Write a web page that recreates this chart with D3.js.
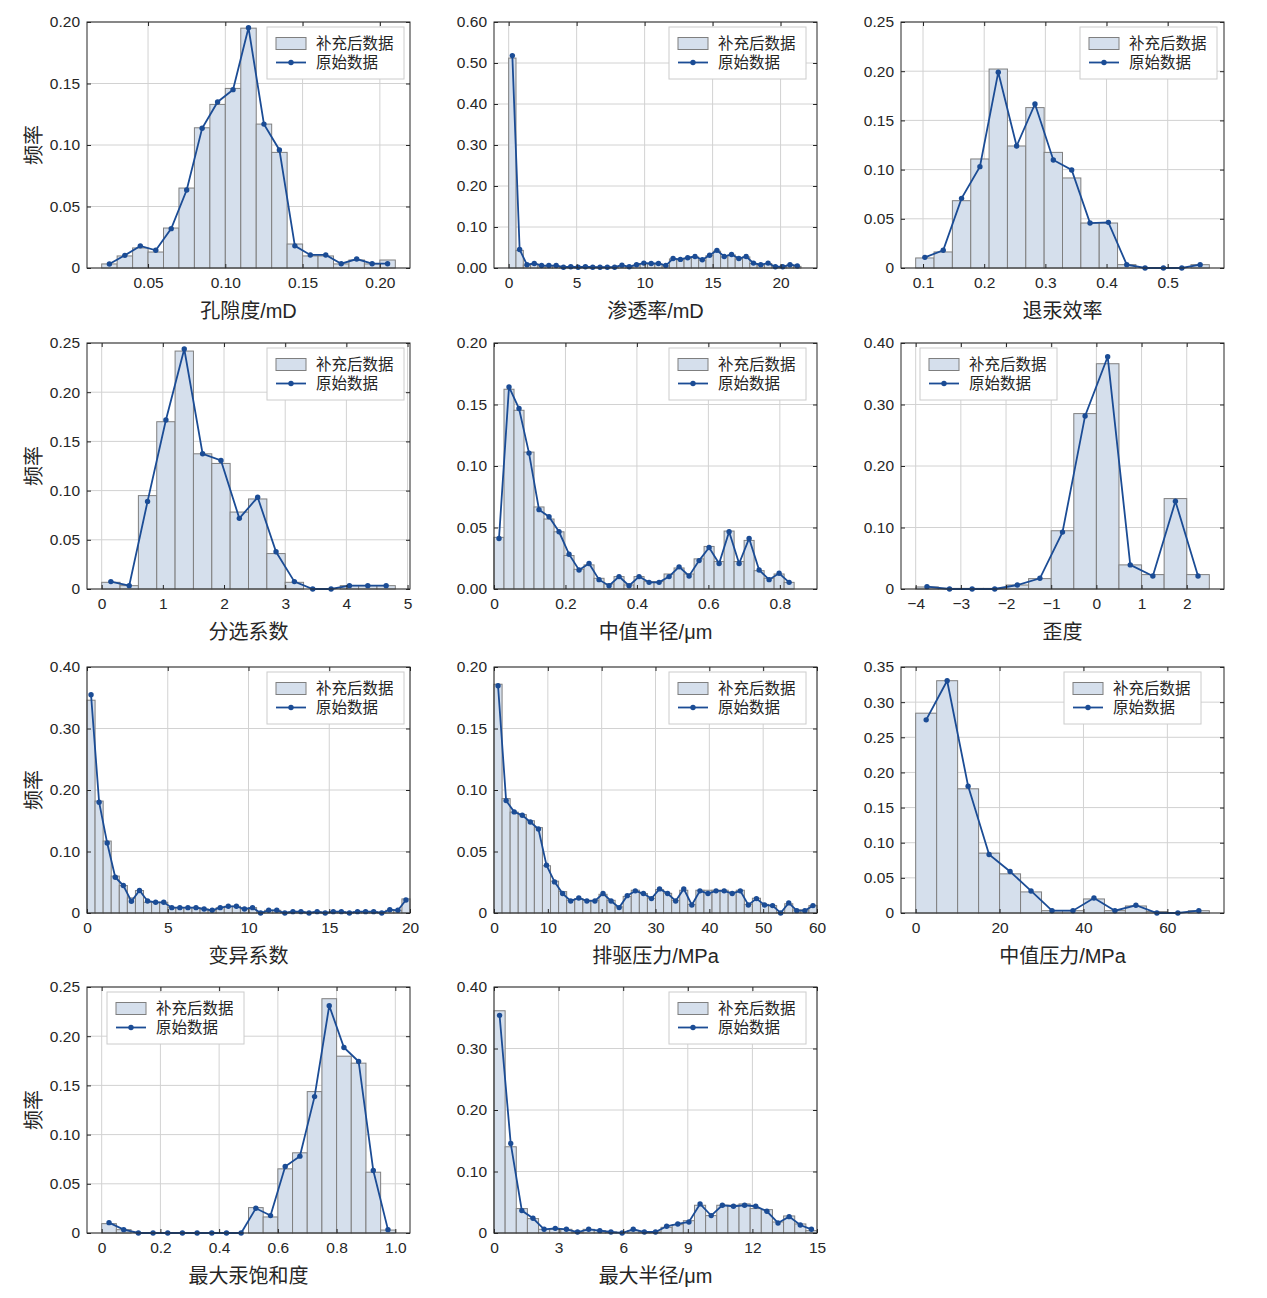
<!DOCTYPE html>
<html>
<head>
<meta charset="utf-8">
<script src="https://cdn.jsdelivr.net/npm/d3@7"></script>
<style>
    body { margin: 0; background: #fff; }
    svg text { font-family: "Liberation Sans", "Noto Sans CJK SC", sans-serif; fill: #262626; }
</style>
</head>
<body>
<div id="chart"></div>
<script>
// ---- data (frequency per bin) ----
const seriesNames = ['补充后数据', '原始数据'];
const xLabels = ['孔隙度/mD', '渗透率/mD', '退汞效率', '分选系数', '中值半径/μm', '歪度',
                 '变异系数', '排驱压力/MPa', '中值压力/MPa', '最大汞饱和度', '最大半径/μm'];
const yLabel = '频率';

// bin start and bin width per panel
const binStarts = [0.02, 0, 0.088, 0, 0, -4, 0, 0, 0, 0, 0];
const binWidths = [0.01, 0.5375, 0.03, 0.3, 0.028, 0.5, 0.5, 1.5, 5, 0.05, 15 / 29];

const porosityBars = [0.0033, 0.0098, 0.0163, 0.013, 0.0325, 0.065, 0.114, 0.133, 0.146, 0.195, 0.117, 0.094, 0.0195, 0.0098, 0.0098, 0.0033, 0.0065, 0.0033, 0.0065];
const porosityLine = [0.0033, 0.0103, 0.018, 0.0144, 0.032, 0.0634, 0.1136, 0.135, 0.145, 0.1954, 0.117, 0.096, 0.018, 0.0106, 0.0106, 0.0035, 0.0073, 0.0035, 0.0035];

const permBars = [0.512, 0.043, 0.007, 0.010, 0.005, 0.005, 0.005, 0.002, 0.003, 0.002, 0.003, 0.002, 0.002, 0.002, 0.002, 0.006, 0.003, 0.007, 0.011, 0.010, 0.010, 0.005, 0.022, 0.020, 0.024, 0.027, 0.019, 0.030, 0.041, 0.027, 0.032, 0.022, 0.027, 0.011, 0.007, 0.011, 0.003, 0.003, 0.007, 0.004];
const permLine = [0.518, 0.045, 0.008, 0.011, 0.006, 0.006, 0.006, 0.002, 0.003, 0.002, 0.003, 0.002, 0.002, 0.002, 0.002, 0.007, 0.003, 0.008, 0.012, 0.011, 0.011, 0.006, 0.023, 0.021, 0.025, 0.028, 0.020, 0.031, 0.043, 0.028, 0.033, 0.023, 0.028, 0.012, 0.008, 0.012, 0.003, 0.003, 0.008, 0.005];

const recoveryBars = [0.0102, 0.0163, 0.0684, 0.1108, 0.2022, 0.124, 0.163, 0.1175, 0.0915, 0.0457, 0.0457, 0.0034, 0, 0, 0, 0.0034];
const recoveryLine = [0.0108, 0.018, 0.0708, 0.103, 0.199, 0.124, 0.1667, 0.1098, 0.0996, 0.0457, 0.0464, 0.0034, 0, 0, 0, 0.0034];

const sortingBars = [0.0068, 0.0034, 0.0949, 0.170, 0.2418, 0.1374, 0.1276, 0.0782, 0.0915, 0.036, 0.0068, 0, 0, 0.0034, 0.0034, 0.0034];
const sortingLine = [0.0075, 0.0034, 0.089, 0.1718, 0.2439, 0.1374, 0.1306, 0.0718, 0.0932, 0.0378, 0.0075, 0, 0, 0.0034, 0.0034, 0.0034];

const medRadiusBars = [0.042, 0.1624, 0.1453, 0.1113, 0.0667, 0.0569, 0.0465, 0.0272, 0.016, 0.0196, 0.0087, 0.0041, 0.0101, 0.0033, 0.0101, 0.006, 0.006, 0.0122, 0.0171, 0.0122, 0.0245, 0.0346, 0.0223, 0.0471, 0.0223, 0.0395, 0.0149, 0.0087, 0.0122, 0.0054];
const medRadiusLine = [0.0411, 0.1643, 0.1467, 0.1105, 0.0645, 0.0588, 0.0465, 0.0283, 0.0155, 0.0207, 0.0076, 0.0027, 0.0101, 0.0027, 0.0101, 0.0054, 0.0054, 0.0101, 0.018, 0.0106, 0.0231, 0.0337, 0.0207, 0.0465, 0.0207, 0.0411, 0.0155, 0.0076, 0.0128, 0.0054];

const skewBars = [0.0033, 0.001, 0.001, 0.001, 0.0065, 0.0169, 0.0947, 0.2852, 0.3663, 0.0392, 0.0234, 0.147, 0.0234];
const skewLine = [0.0038, 0, 0, 0, 0.0065, 0.0174, 0.0925, 0.2814, 0.3777, 0.0392, 0.0212, 0.1426, 0.0212];

const cvBars = [0.346, 0.182, 0.117, 0.06, 0.0446, 0.0245, 0.0365, 0.0174, 0.0174, 0.0174, 0.0087, 0.0087, 0.0087, 0.0087, 0.0065, 0.0044, 0.0087, 0.0109, 0.0109, 0.0065, 0.0087, 0.0011, 0.0044, 0.0044, 0.0011, 0.0022, 0.0022, 0.0011, 0.0022, 0.0011, 0.0022, 0.0022, 0.0011, 0.0022, 0.0022, 0.0022, 0.0011, 0.0044, 0.0044, 0.0229];
const cvLine = [0.3548, 0.1801, 0.1137, 0.0582, 0.0446, 0.019, 0.0365, 0.0196, 0.0174, 0.0174, 0.0087, 0.0087, 0.0087, 0.0087, 0.0065, 0.0044, 0.0087, 0.0109, 0.0109, 0.0065, 0.0087, 0, 0.0044, 0.0044, 0, 0.0022, 0.0022, 0, 0.0022, 0, 0.0022, 0.0022, 0, 0.0022, 0.0022, 0.0022, 0, 0.0054, 0.0044, 0.0212];

const entryBars = [0.186, 0.093, 0.082, 0.08, 0.075, 0.0694, 0.0384, 0.0259, 0.0174, 0.0103, 0.0118, 0.0103, 0.0103, 0.0152, 0.0103, 0.005, 0.0135, 0.0185, 0.0158, 0.012, 0.019, 0.016, 0.0103, 0.0185, 0.007, 0.0185, 0.0185, 0.0185, 0.0185, 0.017, 0.0185, 0.007, 0.012, 0.007, 0.006, 0.0005, 0.0075, 0.0025, 0.0025, 0.006];
const entryLine = [0.1848, 0.0914, 0.0822, 0.0795, 0.074, 0.0683, 0.0389, 0.0253, 0.0158, 0.0098, 0.0122, 0.0098, 0.0098, 0.0158, 0.0098, 0.0044, 0.0141, 0.018, 0.0158, 0.0117, 0.0196, 0.0158, 0.0098, 0.0196, 0.0065, 0.018, 0.0158, 0.018, 0.018, 0.0158, 0.018, 0.0065, 0.0117, 0.0065, 0.006, 0, 0.0082, 0.0019, 0.0019, 0.006];

const medPressBars = [0.2843, 0.3305, 0.1767, 0.0852, 0.0557, 0.03, 0.0033, 0.0033, 0.02, 0.0033, 0.01, 0.002, 0, 0.0033];
const medPressLine = [0.2748, 0.3305, 0.1805, 0.0833, 0.059, 0.0314, 0.0033, 0.0033, 0.0214, 0.0033, 0.011, 0, 0, 0.0033];

const maxSatBars = [0.0095, 0.0034, 0, 0, 0, 0, 0, 0, 0, 0, 0.0258, 0.0163, 0.0652, 0.0815, 0.1437, 0.2381, 0.1797, 0.1726, 0.0618, 0.003];
const maxSatLine = [0.0105, 0.0034, 0, 0, 0, 0, 0, 0, 0, 0, 0.0251, 0.0177, 0.0676, 0.0781, 0.1386, 0.231, 0.1885, 0.1743, 0.0635, 0.0034];

const maxRadiusBars = [0.3614, 0.1402, 0.0397, 0.0234, 0.006, 0.006, 0.006, 0.0016, 0.006, 0.0038, 0.0016, 0, 0.0038, 0.0016, 0.0016, 0.0092, 0.0136, 0.02, 0.0451, 0.0283, 0.0451, 0.0451, 0.0473, 0.0397, 0.038, 0.0179, 0.0277, 0.0147, 0.0038];
const maxRadiusLine = [0.3538, 0.1457, 0.0364, 0.0239, 0.006, 0.0076, 0.006, 0.0016, 0.006, 0.0038, 0.0016, 0, 0.006, 0.0016, 0.0016, 0.0109, 0.0147, 0.0179, 0.0473, 0.0283, 0.0451, 0.0435, 0.0451, 0.0435, 0.0353, 0.0163, 0.0266, 0.013, 0.006];

const barSeries = [porosityBars, permBars, recoveryBars, sortingBars, medRadiusBars, skewBars, cvBars, entryBars, medPressBars, maxSatBars, maxRadiusBars];
const lineSeries = [porosityLine, permLine, recoveryLine, sortingLine, medRadiusLine, skewLine, cvLine, entryLine, medPressLine, maxSatLine, maxRadiusLine];

// axis limits and tick labels
const xDomains = [[0.0105, 0.2195], [-1.08, 22.68], [0.064, 0.592], [-0.24, 5.04], [0, 0.904], [-4.325, 2.825],
                  [0, 20], [0, 60], [-3.5, 73.5], [-0.05, 1.05], [0, 15]];
const xTickValues = [[0.05, 0.10, 0.15, 0.20], [0, 5, 10, 15, 20], [0.1, 0.2, 0.3, 0.4, 0.5], [0, 1, 2, 3, 4, 5],
                     [0, 0.2, 0.4, 0.6, 0.8], [-4, -3, -2, -1, 0, 1, 2], [0, 5, 10, 15, 20], [0, 10, 20, 30, 40, 50, 60],
                     [0, 20, 40, 60], [0, 0.2, 0.4, 0.6, 0.8, 1.0], [0, 3, 6, 9, 12, 15]];
const xTickFormats = ['.2f', 'd', '.1f', 'd', '.1f', 'd', 'd', 'd', 'd', '.1f', 'd'];
const yMaxes = [0.20, 0.60, 0.25, 0.25, 0.20, 0.40, 0.40, 0.20, 0.35, 0.25, 0.40];
const ySteps = [0.05, 0.10, 0.05, 0.05, 0.05, 0.10, 0.10, 0.05, 0.05, 0.05, 0.10];
const yZeroLabels = ['0', '0.00', '0', '0', '0.00', '0', '0', '0', '0', '0', '0'];

// ---- layout ----
const width = 1267, height = 1298;
const colX = [87, 494, 901];
const rowY = [22, 343, 667, 987];
const pw = 323, ph = 246;
const legendLeft = [180, 175, 179, 180, 175, 19, 180, 175, 163, 20, 175];

const barFill = '#d5dfec', barStroke = '#7f7f7f', lineColor = '#1b4c95';
const gridColor = '#d2d2d2', frameColor = '#262626';

const svg = d3.select('#chart')
    .append('svg')
    .attr('width', width)
    .attr('height', height);

function fmtTick(spec, zeroLabel) {
    const f = d3.format(spec);
    return d => Math.abs(d) < 1e-12 ? (zeroLabel || '0') : f(d);
}

barSeries.forEach((bars, i) => {
    const g = svg.append('g')
        .attr('transform', `translate(${colX[i % 3]},${rowY[Math.floor(i / 3)]})`);

    const x = d3.scaleLinear().domain(xDomains[i]).range([0, pw]);
    const y = d3.scaleLinear().domain([0, yMaxes[i]]).range([ph, 0]);
    const yTicks = d3.range(0, yMaxes[i] + 1e-9, ySteps[i]);
    const start = binStarts[i], bw = binWidths[i];

    // grid
    g.append('g').selectAll('line').data(xTickValues[i]).join('line')
        .attr('x1', d => x(d)).attr('x2', d => x(d))
        .attr('y1', 0).attr('y2', ph)
        .attr('stroke', gridColor).attr('stroke-width', 1);
    g.append('g').selectAll('line').data(yTicks).join('line')
        .attr('x1', 0).attr('x2', pw)
        .attr('y1', d => y(d)).attr('y2', d => y(d))
        .attr('stroke', gridColor).attr('stroke-width', 1);

    // histogram bars
    g.append('g').selectAll('rect')
        .data(bars.map((v, k) => ({ v, k })).filter(d => d.v > 0))
        .join('rect')
        .attr('x', d => x(start + d.k * bw))
        .attr('width', d => x(start + (d.k + 1) * bw) - x(start + d.k * bw))
        .attr('y', d => y(d.v))
        .attr('height', d => ph - y(d.v))
        .attr('fill', barFill)
        .attr('stroke', barStroke)
        .attr('stroke-width', 1);

    // original-data line
    const pts = lineSeries[i].map((v, k) => [x(start + (k + 0.5) * bw), y(v)]);
    g.append('path')
        .attr('d', d3.line()(pts))
        .attr('fill', 'none')
        .attr('stroke', lineColor)
        .attr('stroke-width', 1.8);
    g.append('g').selectAll('circle').data(pts).join('circle')
        .attr('cx', d => d[0]).attr('cy', d => d[1])
        .attr('r', 2.7)
        .attr('fill', lineColor);

    // axes, ticks pointing inward on all four sides
    const xf = fmtTick(xTickFormats[i]);
    const yf = fmtTick('.2f', yZeroLabels[i]);
    const styleAxis = sel => {
        sel.select('.domain').remove();
        sel.selectAll('.tick line').attr('stroke', frameColor);
        sel.selectAll('.tick text').style('font-size', '15.5px').attr('fill', frameColor);
    };
    g.append('g').attr('transform', `translate(0,${ph})`)
        .call(d3.axisBottom(x).tickValues(xTickValues[i]).tickSize(-4).tickPadding(9).tickFormat(xf))
        .call(styleAxis);
    g.append('g')
        .call(d3.axisTop(x).tickValues(xTickValues[i]).tickSize(-4).tickFormat(''))
        .call(styleAxis);
    g.append('g')
        .call(d3.axisLeft(y).tickValues(yTicks).tickSize(-4).tickPadding(7).tickFormat(yf))
        .call(styleAxis);
    g.append('g').attr('transform', `translate(${pw},0)`)
        .call(d3.axisRight(y).tickValues(yTicks).tickSize(-4).tickFormat(''))
        .call(styleAxis);

    g.append('rect')
        .attr('width', pw).attr('height', ph)
        .attr('fill', 'none')
        .attr('stroke', frameColor).attr('stroke-width', 1);

    // axis labels
    g.append('text')
        .attr('x', pw / 2).attr('y', ph + 50)
        .attr('text-anchor', 'middle')
        .style('font-size', '20px')
        .text(xLabels[i]);
    if (i % 3 === 0) {
        g.append('text')
            .attr('transform', `translate(-46,${ph / 2}) rotate(-90)`)
            .attr('text-anchor', 'middle')
            .style('font-size', '20px')
            .text(yLabel);
    }

    // legend
    const lg = g.append('g').attr('transform', `translate(${legendLeft[i]},5)`);
    lg.append('rect')
        .attr('width', 137).attr('height', 52)
        .attr('fill', '#fff').attr('stroke', '#cccccc').attr('stroke-width', 1);
    lg.append('rect')
        .attr('x', 9).attr('y', 10.5).attr('width', 30).attr('height', 12)
        .attr('fill', barFill).attr('stroke', barStroke).attr('stroke-width', 1);
    lg.append('line')
        .attr('x1', 9).attr('x2', 39).attr('y1', 35.5).attr('y2', 35.5)
        .attr('stroke', lineColor).attr('stroke-width', 1.8);
    lg.append('circle')
        .attr('cx', 24).attr('cy', 35.5).attr('r', 2.7).attr('fill', lineColor);
    lg.selectAll('text.leg').data(seriesNames).join('text')
        .attr('class', 'leg')
        .attr('x', 49).attr('y', (d, k) => 16.5 + k * 19.5)
        .attr('dy', '0.35em')
        .style('font-size', '15.5px')
        .attr('fill', '#404040')
        .text(d => d);
});
</script>
</body>
</html>
